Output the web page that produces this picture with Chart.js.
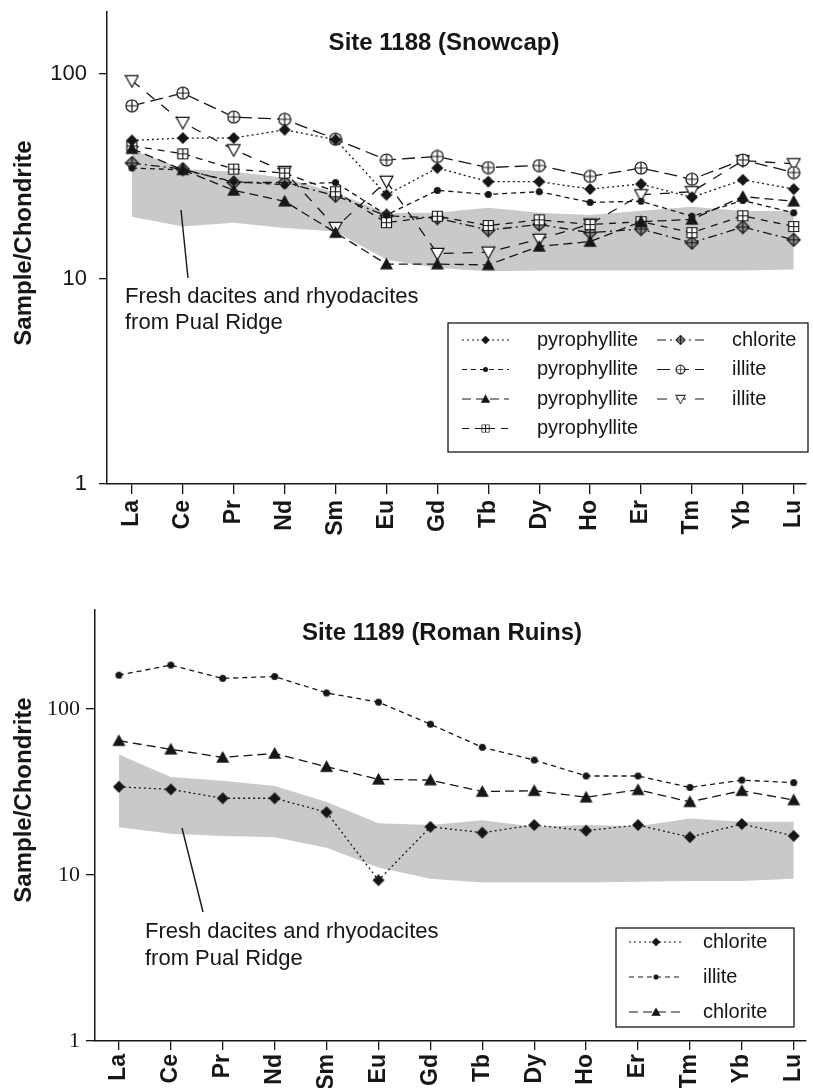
<!DOCTYPE html>
<html>
<head>
<meta charset="utf-8">
<title>REE patterns</title>
<script src="https://cdn.jsdelivr.net/npm/chart.js@4.4.1/dist/chart.umd.min.js"></script>
<style>
  html, body { margin: 0; padding: 0; background: #fff; overflow: hidden; }
  .panel { position: absolute; left: 0; width: 813px; }
  #top-panel { top: 0; height: 590px; }
  #bottom-panel { top: 590px; height: 498px; }
</style>
</head>
<body>
<div class="panel" id="top-panel"><canvas id="snowcap" width="813" height="590"></canvas></div>
<div class="panel" id="bottom-panel"><canvas id="roman" width="813" height="498"></canvas></div>
<script>
// Rare earth elements, chondrite normalised
const elements = ['La', 'Ce', 'Pr', 'Nd', 'Sm', 'Eu', 'Gd', 'Tb', 'Dy', 'Ho', 'Er', 'Tm', 'Yb', 'Lu'];
const yTicks = [1, 10, 100];

// Site 1188 (Snowcap)
const snowPyroDiamond   = [47.3, 48.6, 48.6, 53.3, 47.7, 25.7, 34.7, 29.8, 29.8, 27.4, 29.0, 25.0, 30.4, 27.4];
const snowPyroDot       = [34.7, 34.0, 29.8, 28.8, 29.5, 20.5, 27.0, 25.8, 26.6, 23.6, 23.9, 20.2, 24.1, 21.0];
const snowPyroTriangle  = [43.1, 34.0, 27.0, 23.9, 16.8, 11.8, 11.8, 11.7, 14.4, 15.2, 19.0, 19.5, 25.2, 23.9];
const snowPyroSquare    = [44.5, 40.7, 34.3, 32.8, 26.6, 18.8, 20.2, 18.2, 19.4, 18.4, 19.0, 16.8, 20.3, 18.0];
const snowChlorite      = [36.7, 34.3, 29.5, 29.5, 25.4, 20.3, 19.8, 17.3, 18.4, 16.8, 17.5, 15.0, 17.9, 15.5];
const snowIlliteCircle  = [69.8, 80.5, 61.5, 60.0, 48.0, 38.0, 39.5, 34.9, 35.7, 31.6, 34.7, 30.6, 38.0, 33.0];
const snowIlliteDown    = [92.4, 57.9, 42.6, 33.4, 17.8, 29.9, 13.3, 13.5, 15.6, 18.5, 25.7, 26.6, 37.7, 36.4];
const snowBandHigh      = [42.6, 34.3, 33.3, 31.1, 26.3, 21.0, 21.0, 22.2, 21.0, 20.5, 21.5, 22.5, 21.4, 21.4];
const snowBandLow       = [20.1, 18.0, 18.8, 17.7, 17.0, 12.4, 11.3, 10.9, 11.0, 11.0, 11.0, 11.0, 11.0, 11.1];

// Site 1189 (Roman Ruins)
const romanChloriteDiamond  = [34.0, 32.8, 29.0, 29.0, 23.9, 9.3, 19.5, 18.0, 20.0, 18.5, 20.0, 16.9, 20.3, 17.2];
const romanIllite           = [160, 184, 153, 157, 125, 110, 81, 58.8, 49.3, 39.5, 39.5, 33.7, 37.3, 36.0];
const romanChloriteTriangle = [64.4, 57.2, 51.1, 54.0, 44.9, 37.7, 37.3, 31.8, 32.2, 29.4, 32.6, 27.6, 32.2, 28.3];
const romanBandHigh         = [53.3, 39.0, 37.0, 34.4, 27.5, 20.5, 20.0, 21.4, 19.5, 20.0, 19.7, 21.9, 20.9, 20.9];
const romanBandLow          = [19.4, 17.7, 17.2, 16.9, 14.6, 11.1, 9.5, 9.0, 9.0, 9.0, 9.1, 9.2, 9.2, 9.5];

const INK = '#161616';
const BAND = '#c9c9c9';
const SANS = '"Liberation Sans", Arial, Helvetica, sans-serif';
const SERIF = '"Liberation Serif", "Times New Roman", serif';

// small canvases used as point symbols
function marker(kind, size) {
  const c = document.createElement('canvas');
  c.width = size; c.height = size;
  const g = c.getContext('2d');
  const m = size / 2, r = size / 2 - 1;
  g.strokeStyle = INK; g.fillStyle = INK; g.lineWidth = 1.2;
  g.beginPath();
  if (kind === 'diamond' || kind === 'diamondPlus') {
    g.moveTo(m, m - r); g.lineTo(m + r, m); g.lineTo(m, m + r); g.lineTo(m - r, m); g.closePath();
  } else if (kind === 'dot' || kind === 'circlePlus') {
    g.arc(m, m, r, 0, Math.PI * 2);
  } else if (kind === 'triangle') {
    g.moveTo(m, m - r); g.lineTo(m + r, m + r * 0.8); g.lineTo(m - r, m + r * 0.8); g.closePath();
  } else if (kind === 'triangleDown') {
    g.moveTo(m - r, m - r * 0.8); g.lineTo(m + r, m - r * 0.8); g.lineTo(m, m + r); g.closePath();
  } else if (kind === 'squarePlus') {
    g.rect(m - r + 0.5, m - r + 0.5, 2 * r - 1, 2 * r - 1);
  }
  if (kind === 'diamond' || kind === 'dot' || kind === 'triangle') {
    g.fill();
  } else {
    g.fillStyle = kind === 'diamondPlus' ? '#8a8a8a' : '#fff';
    g.fill(); g.stroke();
    if (kind !== 'triangleDown') {
      const k = kind === 'squarePlus' ? r - 0.5 : r;
      g.beginPath();
      g.moveTo(m - k, m); g.lineTo(m + k, m);
      g.moveTo(m, m - k); g.lineTo(m, m + k);
      g.stroke();
    }
  }
  return c;
}

const toPoints = vals => vals.map((v, i) => ({ x: i, y: v }));

function lineSet(label, vals, dash, symbol) {
  return {
    label, data: toPoints(vals),
    borderColor: INK, borderWidth: 1.3, borderDash: dash,
    pointStyle: symbol, pointRadius: 6, pointHoverRadius: 6,
    fill: false, tension: 0
  };
}

// shaded field of the fresh volcanic rocks
function bandSets(high, low) {
  return [
    { label: 'field-low', data: toPoints(low), borderColor: 'rgba(0,0,0,0)', borderWidth: 0, pointRadius: 0, fill: false, order: 10 },
    { label: 'field-high', data: toPoints(high), borderColor: 'rgba(0,0,0,0)', borderWidth: 0, pointRadius: 0,
      backgroundColor: BAND, fill: '-1', order: 10 }
  ];
}

// titles, note, pointer and the boxed key
const decor = {
  id: 'decor',
  afterDraw(chart, args, o) {
    const ctx = chart.ctx;
    ctx.save();
    ctx.fillStyle = INK;
    ctx.strokeStyle = INK;

    ctx.font = 'bold 24px ' + SANS;
    ctx.textAlign = 'center';
    ctx.textBaseline = 'middle';
    ctx.fillText(o.title, o.titleX, o.titleY);

    ctx.save();
    ctx.translate(o.yTitleX, o.yTitleY);
    ctx.rotate(-Math.PI / 2);
    ctx.fillText('Sample/Chondrite', 0, 0);
    ctx.restore();

    ctx.font = '22px ' + SANS;
    ctx.textAlign = 'left';
    o.note.forEach((line, i) => ctx.fillText(line, o.noteX, o.noteY + i * o.noteGap));
    ctx.lineWidth = 1.4;
    ctx.beginPath();
    ctx.moveTo(o.pointer[0], o.pointer[1]);
    ctx.lineTo(o.pointer[2], o.pointer[3]);
    ctx.stroke();

    const lg = o.legend;
    ctx.lineWidth = 1.3;
    ctx.strokeRect(lg.x, lg.y, lg.w, lg.h);
    ctx.font = '20px ' + SANS;
    lg.items.forEach(it => {
      const ds = chart.data.datasets[it.dataset];
      const x0 = lg.cols[it.col], y = lg.rows[it.row];
      ctx.lineWidth = 1.2;
      ctx.setLineDash(ds.borderDash);
      ctx.beginPath();
      ctx.moveTo(x0, y);
      ctx.lineTo(x0 + lg.sample, y);
      ctx.stroke();
      ctx.setLineDash([]);
      const img = ds.pointStyle, s = 0.72;
      ctx.drawImage(img, x0 + lg.sample / 2 - img.width * s / 2, y - img.height * s / 2, img.width * s, img.height * s);
      ctx.fillText(ds.label, x0 + lg.sample + lg.gap, y);
    });
    ctx.restore();
  }
};

function buildChart(id, datasets, p) {
  const spacing = p.spacing;
  return new Chart(document.getElementById(id), {
    type: 'line',
    data: { datasets },
    plugins: [decor],
    options: {
      responsive: false,
      animation: false,
      devicePixelRatio: 1,
      layout: { padding: { top: p.top, left: 0, right: 0, bottom: 0 } },
      plugins: { legend: { display: false }, tooltip: { enabled: false }, decor: p.decor },
      scales: {
        x: {
          type: 'linear',
          min: -p.firstOffset / spacing,
          max: 13 + p.lastOffset / spacing,
          afterBuildTicks: s => { s.ticks = elements.map((_, i) => ({ value: i })); },
          afterFit: s => { s.height = p.xAxisH; s.paddingLeft = 0; s.paddingRight = 0; },
          ticks: {
            autoSkip: false, minRotation: 90, maxRotation: 90, padding: p.xPad,
            color: INK, font: { family: SANS, size: 23, weight: 'bold' },
            callback: v => elements[v]
          },
          grid: { drawOnChartArea: false, drawTicks: true, tickLength: p.xTick, color: INK, lineWidth: 1.3 },
          border: { display: true, color: INK, width: 1.5 }
        },
        y: {
          type: 'logarithmic',
          min: 1,
          max: p.yMax,
          afterBuildTicks: s => { s.ticks = yTicks.map(v => ({ value: v })); },
          afterFit: s => { s.width = p.yAxisW; s.paddingTop = 0; s.paddingBottom = 0; },
          ticks: {
            padding: p.yPad, color: INK, font: { family: p.yFont, size: 22 },
            callback: v => String(v)
          },
          grid: { drawOnChartArea: false, drawTicks: true, tickLength: p.yTick, color: INK, lineWidth: 1.3 },
          border: { display: true, color: INK, width: 1.5 }
        }
      }
    }
  });
}

const mDiamond = marker('diamond', 14);
const mDot = marker('dot', 9);
const mTriangle = marker('triangle', 15);
const mSquarePlus = marker('squarePlus', 13);
const mDiamondPlus = marker('diamondPlus', 15);
const mCirclePlus = marker('circlePlus', 14);
const mTriangleDown = marker('triangleDown', 15);

const dotted = [2, 3];
const shortDash = [5, 4];
const midDash = [9, 5];
const squareDash = [7, 6];
const dashDot = [9, 4, 2, 4];
const longDash = [13, 6];
const wideDash = [10, 9];

const snowSets = [
  lineSet('pyrophyllite', snowPyroDiamond, dotted, mDiamond),
  lineSet('pyrophyllite', snowPyroDot, shortDash, mDot),
  lineSet('pyrophyllite', snowPyroTriangle, midDash, mTriangle),
  lineSet('pyrophyllite', snowPyroSquare, squareDash, mSquarePlus),
  lineSet('chlorite', snowChlorite, dashDot, mDiamondPlus),
  lineSet('illite', snowIlliteCircle, longDash, mCirclePlus),
  lineSet('illite', snowIlliteDown, wideDash, mTriangleDown)
].concat(bandSets(snowBandHigh, snowBandLow));

// the plot area ends 5px short of the canvas edge, so Lu sits 12px inside it
buildChart('snowcap', snowSets, {
  top: 12, xAxisH: 106, yAxisW: 107, yMax: 200,
  spacing: 51.08, firstOffset: 25, lastOffset: 12,
  xTick: 10, xPad: 6, yTick: 8, yPad: 12, yFont: SANS,
  decor: {
    title: 'Site 1188 (Snowcap)', titleX: 444, titleY: 43,
    yTitleX: 24, yTitleY: 243,
    note: ['Fresh dacites and rhyodacites', 'from Pual Ridge'], noteX: 125, noteY: 297, noteGap: 26,
    pointer: [181, 210, 188, 278],
    legend: {
      x: 448, y: 323, w: 360, h: 129,
      cols: [462, 657], rows: [340, 369.5, 399, 428.5], sample: 47, gap: 28,
      items: [
        { dataset: 0, col: 0, row: 0 }, { dataset: 1, col: 0, row: 1 },
        { dataset: 2, col: 0, row: 2 }, { dataset: 3, col: 0, row: 3 },
        { dataset: 4, col: 1, row: 0 }, { dataset: 5, col: 1, row: 1 },
        { dataset: 6, col: 1, row: 2 }
      ]
    }
  }
});

const romanSets = [
  lineSet('chlorite', romanChloriteDiamond, dotted, mDiamond),
  lineSet('illite', romanIllite, shortDash, mDot),
  lineSet('chlorite', romanChloriteTriangle, midDash, mTriangle)
].concat(bandSets(romanBandHigh, romanBandLow));

buildChart('roman', romanSets, {
  top: 20, xAxisH: 47, yAxisW: 95, yMax: 395,
  spacing: 52.08, firstOffset: 24, lastOffset: 12,
  xTick: 9, xPad: 4, yTick: 9, yPad: 6, yFont: SERIF,
  decor: {
    title: 'Site 1189 (Roman Ruins)', titleX: 442, titleY: 43,
    yTitleX: 24, yTitleY: 210,
    note: ['Fresh dacites and rhyodacites', 'from Pual Ridge'], noteX: 145, noteY: 342, noteGap: 27,
    pointer: [182, 238, 203, 322],
    legend: {
      x: 616, y: 338, w: 178, h: 99,
      cols: [629], rows: [352, 387, 422], sample: 54, gap: 20,
      items: [
        { dataset: 0, col: 0, row: 0 }, { dataset: 1, col: 0, row: 1 }, { dataset: 2, col: 0, row: 2 }
      ]
    }
  }
});
</script>
</body>
</html>
